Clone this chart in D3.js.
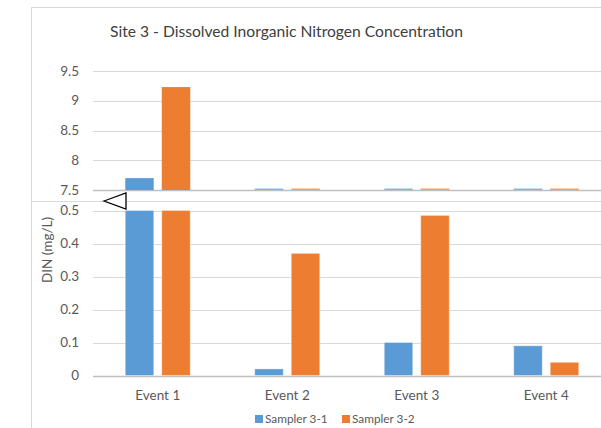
<!DOCTYPE html>
<html>
<head>
<meta charset="utf-8">
<script src="https://cdn.jsdelivr.net/npm/d3@7"></script>
<style>
  html, body { margin: 0; padding: 0; background: #fff; overflow: hidden; }
  svg { display: block; font-family: Lato, "Open Sans", sans-serif; }
</style>
</head>
<body>
<svg id="chart" width="601" height="428"></svg>
<script>
// ---- data ----
const categories = ["Event 1", "Event 2", "Event 3", "Event 4"];
const seriesNames = ["Sampler 3-1", "Sampler 3-2"];
const sampler31 = [7.70, 0.02, 0.10, 0.09];
const sampler32 = [9.23, 0.37, 0.485, 0.04];
const upperTicks = [7.5, 8, 8.5, 9, 9.5];
const lowerTicks = [0, 0.1, 0.2, 0.3, 0.4, 0.5];
const titleText = "Site 3 - Dissolved Inorganic Nitrogen Concentration";
const yTitle = "DIN (mg/L)";

const colors = { "Sampler 3-1": "#5B9BD5", "Sampler 3-2": "#ED7D31" };
const textColor = "#595959";
const gridColor = "#d9d9d9";
const axisColor = "#bfbfbf";

const rows = categories.map((c, i) => ({
  cat: c,
  vals: [{ s: seriesNames[0], v: sampler31[i] }, { s: seriesNames[1], v: sampler32[i] }]
}));

const svg = d3.select("#chart");

// frame
svg.append("rect").attr("x", 31.5).attr("y", 7.5).attr("width", 700).attr("height", 500)
  .attr("fill", "none").attr("stroke", gridColor).attr("stroke-width", 1);
svg.append("line").attr("x1", 31).attr("x2", 601).attr("y1", 201.5).attr("y2", 201.5)
  .attr("stroke", gridColor).attr("stroke-width", 1);

// scales
const plotLeft = 93, plotRight = 611;
const x0 = d3.scaleBand().domain(categories).range([plotLeft, plotRight]).padding(0);
const x1 = d3.scaleBand().domain(seriesNames).range([0, x0.bandwidth()])
  .paddingInner(0.22).paddingOuter(0.884);
const yU = d3.scaleLinear().domain([7.5, 9.5]).range([190, 71]).clamp(true);
const yL = d3.scaleLinear().domain([0, 0.5]).range([375.5, 210.5]).clamp(true);

// gridlines
function grid(scale, ticks, baseVal) {
  const g = svg.append("g");
  g.selectAll("line").data(ticks).join("line")
    .attr("x1", plotLeft).attr("x2", 601)
    .attr("y1", d => Math.round(scale(d)) + 0.5).attr("y2", d => Math.round(scale(d)) + 0.5)
    .attr("stroke", d => d === baseVal ? axisColor : gridColor)
    .attr("stroke-width", d => d === baseVal ? 1.3 : 1);
}
grid(yU, upperTicks, 7.5);
grid(yL, lowerTicks, 0);

// tick labels
function tickLabels(scale, ticks, fmt) {
  svg.append("g").selectAll("text").data(ticks).join("text")
    .attr("x", 79).attr("y", d => scale(d)).attr("dy", "0.35em")
    .attr("text-anchor", "end").attr("fill", textColor).attr("font-size", 13.5)
    .text(fmt);
}
tickLabels(yU, upperTicks, d => d3.format("")(d));
tickLabels(yL, lowerTicks, d => d3.format("")(d));

// upper bars
const gU = svg.append("g");
rows.forEach(r => {
  gU.selectAll(null).data(r.vals).join("rect")
    .attr("x", d => x0(r.cat) + x1(d.s))
    .attr("width", x1.bandwidth())
    .attr("y", d => Math.min(yU(d.v), yU(7.5) - 1.5))
    .attr("height", d => Math.max(1.5, yU(7.5) - yU(d.v)))
    .attr("fill", d => colors[d.s])
    .attr("opacity", d => d.v < 7.5 ? 0.7 : 1);
});

// lower bars
const gL = svg.append("g");
rows.forEach(r => {
  gL.selectAll(null).data(r.vals).join("rect")
    .attr("x", d => x0(r.cat) + x1(d.s))
    .attr("width", x1.bandwidth())
    .attr("y", d => yL(d.v))
    .attr("height", d => yL(0) - yL(d.v))
    .attr("fill", d => colors[d.s])
    .attr("stroke", "#ffffff").attr("stroke-opacity", 0.35).attr("stroke-width", 1);
});

// break marker triangle
const tx = plotLeft + 11, ty = 201;
svg.append("path")
  .attr("d", `M${tx},${ty} L${tx + 22},${ty - 8} L${tx + 22},${ty + 8} Z`)
  .attr("fill", "#fff").attr("stroke", "#000").attr("stroke-width", 1.3);

// category labels
svg.append("g").selectAll("text").data(categories).join("text")
  .attr("x", d => x0(d) + x0.bandwidth() / 2).attr("y", 400)
  .attr("text-anchor", "middle").attr("fill", textColor).attr("font-size", 13.5)
  .text(d => d);

// y axis title
svg.append("text")
  .attr("transform", "translate(52,250) rotate(-90)")
  .attr("text-anchor", "middle").attr("fill", textColor).attr("font-size", 13.5)
  .text(yTitle);

// title (fit to width)
const t = svg.append("text").attr("x", 286.5).attr("y", 37)
  .attr("text-anchor", "middle").attr("fill", "#404040").attr("font-size", 16)
  .text(titleText);
const tw = t.node().getComputedTextLength();
t.attr("font-size", 16 * 353 / tw);

// legend
const legendX = [255, 342];
const lg = svg.append("g");
seriesNames.forEach((s, i) => {
  lg.append("rect").attr("x", legendX[i]).attr("y", 415).attr("width", 8).attr("height", 8)
    .attr("fill", colors[s]);
  lg.append("text").attr("x", legendX[i] + 10).attr("y", 419).attr("dy", "0.35em")
    .attr("fill", textColor).attr("font-size", 11.8).text(s);
});
</script>
</body>
</html>
